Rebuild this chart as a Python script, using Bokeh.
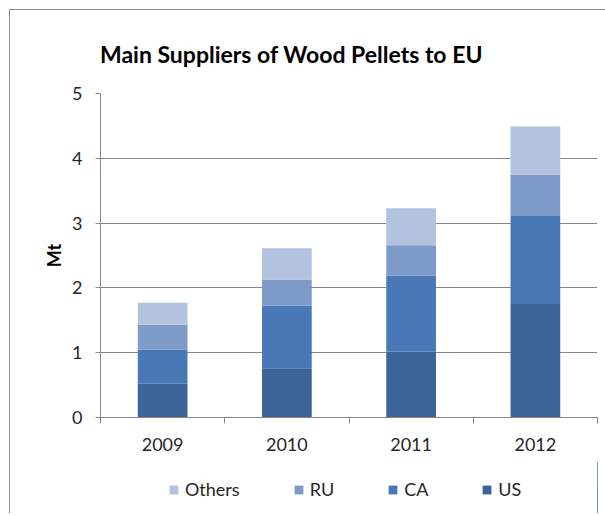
from bokeh.plotting import figure
from bokeh.models import Range1d, FixedTicker, Legend, LegendItem, Label
from bokeh.layouts import column
from bokeh.embed import file_html
from bokeh.resources import INLINE

years = ["2009", "2010", "2011", "2012"]
US = [0.52, 0.76, 1.02, 1.75]
CA = [0.53, 0.97, 1.17, 1.37]
RU = [0.38, 0.40, 0.47, 0.63]
Others = [0.34, 0.48, 0.57, 0.74]
series = ["US", "CA", "RU", "Others"]
colors = ["#3C6498", "#4878B6", "#7D9AC9", "#B3C2DE"]
y_ticks = [0, 1, 2, 3, 4, 5]
TITLE = "Main Suppliers of Wood Pellets to EU"

FONT = "Lato"
GRID = "#868686"
BORDER = "1px solid #8c8c8c"

xs = [i + 0.5 for i in range(len(years))]
data = {"x": xs, "US": US, "CA": CA, "RU": RU, "Others": Others}

# title strip (pixel-like ranges)
p0 = figure(width=595, height=71, output_backend="svg", toolbar_location=None,
            x_range=Range1d(0, 497), y_range=Range1d(0, 71),
            min_border_left=0, min_border_right=0, min_border_top=0,
            min_border_bottom=0)
p0.axis.visible = False
p0.grid.grid_line_color = None
p0.outline_line_color = None
p0.add_layout(Label(x=191, y=28, text=TITLE, text_font=FONT,
                    text_font_style="bold", text_font_size="23px",
                    text_color="#000000", text_align="center",
                    text_baseline="alphabetic"))

p = figure(width=595, height=381, output_backend="svg", toolbar_location=None,
           x_range=Range1d(0, len(years)), y_range=Range1d(0, 5),
           min_border_left=90, min_border_right=8, min_border_top=12,
           min_border_bottom=45)
p.outline_line_color = None
p.background_fill_color = "white"

rs = p.vbar_stack(series, x="x", width=0.4, color=colors, line_color=None,
                  source=data)

# axes
xa = p.xaxis[0]
xa.ticker = FixedTicker(ticks=xs, minor_ticks=list(range(len(years) + 1)))
xa.major_label_overrides = {x: y for x, y in zip(xs, years)}
xa.major_tick_line_color = None
xa.minor_tick_line_color = GRID
xa.minor_tick_out = 6
xa.minor_tick_in = 0
xa.axis_line_color = GRID
xa.major_label_text_font = FONT
xa.major_label_text_font_size = "18px"
xa.major_label_text_color = "#262626"
xa.major_label_standoff = 14

ya = p.yaxis[0]
ya.ticker = FixedTicker(ticks=y_ticks)
ya.minor_tick_line_color = None
ya.major_tick_line_color = GRID
ya.major_tick_out = 5
ya.major_tick_in = 0
ya.axis_line_color = GRID
ya.major_label_text_font = FONT
ya.major_label_text_font_size = "18px"
ya.major_label_text_color = "#262626"
ya.major_label_standoff = 13
ya.axis_label = "Mt"
ya.axis_label_text_font = FONT
ya.axis_label_text_font_style = "bold"
ya.axis_label_text_font_size = "18px"
ya.axis_label_text_color = "#000000"
ya.axis_label_standoff = 4

p.xgrid.grid_line_color = None
p.ygrid.grid_line_color = GRID
p.ygrid.ticker = FixedTicker(ticks=y_ticks)

# legend figure (reversed order); its bars lie outside its ranges
p2 = figure(width=595, height=51, output_backend="svg", toolbar_location=None,
            x_range=Range1d(-2, -1), y_range=Range1d(0, 1),
            min_border_left=0, min_border_right=0, min_border_top=0,
            min_border_bottom=0)
p2.axis.visible = False
p2.grid.grid_line_color = None
p2.outline_line_color = None
lrs = p2.vbar_stack(series, x="x", width=0.4, color=colors, line_color=None,
                    source=data)
items = [LegendItem(label=s, renderers=[r]) for s, r in zip(series, lrs)][::-1]
legend = Legend(items=items, orientation="horizontal", location=(68, 13),
                glyph_width=11, glyph_height=11, label_standoff=6, spacing=53,
                padding=0, margin=0, border_line_color=None,
                background_fill_alpha=0, label_text_font=FONT,
                label_text_font_size="18px", label_text_color="#262626",
                label_height=20)
p2.add_layout(legend, "center")

layout = column(p0, p, p2, spacing=0,
                styles={"border-left": BORDER, "border-top": BORDER,
                        "margin-left": "9px", "margin-top": "9px"})

open("out.html", "w").write(file_html(layout, INLINE))
